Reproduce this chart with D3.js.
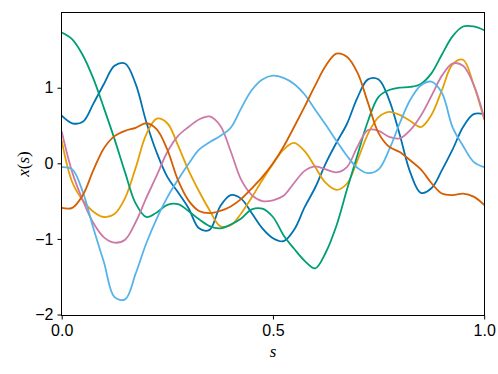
<!DOCTYPE html>
<html><head><meta charset="utf-8">
<script src="https://cdn.jsdelivr.net/npm/d3@7"></script>
<style>body{margin:0;background:#fff}svg{display:block}</style>
</head><body>
<svg id="chart" width="498" height="374"></svg>
<script>
// ---- data ----
const sValues = [0,0.025,0.05,0.075,0.1,0.125,0.15,0.175,0.2,0.225,0.25,0.275,0.3,0.325,0.35,0.375,0.4,0.425,0.45,0.475,0.5,0.525,0.55,0.575,0.6,0.625,0.65,0.675,0.7,0.725,0.75,0.775,0.8,0.825,0.85,0.875,0.9,0.925,0.95,0.975,1.0];
const sample1 = [0.63,0.53,0.55,0.79,1.05,1.29,1.32,1.05,0.55,0.14,-0.18,-0.38,-0.59,-0.86,-0.88,-0.57,-0.42,-0.47,-0.66,-0.86,-0.99,-1.03,-0.88,-0.58,-0.32,0.0,0.27,0.52,0.87,1.11,1.11,0.84,0.38,-0.12,-0.39,-0.33,-0.09,0.18,0.48,0.65,0.65];
const sample2 = [0.30,-0.25,-0.49,-0.64,-0.71,-0.67,-0.46,-0.06,0.38,0.59,0.53,0.24,-0.09,-0.37,-0.62,-0.83,-0.82,-0.66,-0.45,-0.22,-0.01,0.18,0.27,0.16,-0.05,-0.26,-0.35,-0.27,0.04,0.39,0.61,0.68,0.64,0.56,0.48,0.64,0.97,1.31,1.37,1.04,0.58];
const sample3 = [1.73,1.64,1.43,1.12,0.73,0.32,-0.12,-0.53,-0.71,-0.65,-0.55,-0.54,-0.63,-0.74,-0.83,-0.86,-0.81,-0.73,-0.61,-0.60,-0.71,-0.95,-1.13,-1.29,-1.39,-1.18,-0.83,-0.35,0.11,0.56,0.88,0.97,1.0,1.01,1.05,1.19,1.44,1.68,1.81,1.81,1.76];
const sample4 = [0.42,-0.12,-0.49,-0.79,-0.98,-1.05,-1.01,-0.78,-0.46,-0.16,0.15,0.36,0.48,0.58,0.62,0.50,0.16,-0.22,-0.42,-0.50,-0.49,-0.43,-0.26,-0.10,-0.04,-0.08,-0.12,-0.05,0.22,0.44,0.43,0.35,0.33,0.44,0.63,0.89,1.16,1.32,1.29,1.04,0.60];
const sample5 = [-0.05,-0.08,-0.38,-0.86,-1.31,-1.77,-1.80,-1.46,-1.06,-0.73,-0.45,-0.22,-0.01,0.18,0.28,0.36,0.47,0.73,0.97,1.11,1.16,1.13,1.05,0.91,0.71,0.51,0.30,0.10,-0.06,-0.13,-0.08,0.18,0.53,0.84,1.03,1.08,0.93,0.48,0.23,0.02,-0.05];
const sample6 = [-0.59,-0.59,-0.42,-0.09,0.20,0.36,0.43,0.47,0.53,0.45,0.18,-0.22,-0.49,-0.63,-0.66,-0.63,-0.57,-0.47,-0.33,-0.18,0.0,0.22,0.48,0.75,1.03,1.29,1.45,1.41,1.20,0.80,0.40,0.22,0.15,0.04,-0.08,-0.26,-0.40,-0.42,-0.40,-0.44,-0.55];
const seriesList = [sample1, sample2, sample3, sample4, sample5, sample6];
const seriesColors = ["#0072B2","#E69F00","#009E73","#CC79A7","#56B4E9","#D55E00"];
const xTicks = [0, 0.5, 1.0];
const xTickLabels = ["0.0","0.5","1.0"];
const yTicks = [-2,-1,0,1];
const yTickLabels = ["\u22122","\u22121","0","1"];

// ---- layout ----
const L = 61.5, R = 484.5, T = 12.5, B = 315.5;
const svg = d3.select("#chart");
const x = d3.scaleLinear().domain([0,1]).range([L+0.2, R-0.3]);
const y = d3.scaleLinear().domain([-2.013, 1.995]).range([B, T]);

svg.append("defs").append("clipPath").attr("id","pa")
  .append("rect").attr("x",L).attr("y",T).attr("width",R-L).attr("height",B-T);

const line = d3.line().x((d,i)=>x(sValues[i])).y(d=>y(d)).curve(d3.curveCatmullRom.alpha(0.5));
const g = svg.append("g").attr("clip-path","url(#pa)");
seriesList.forEach((vals,k)=>{
  g.append("path").attr("d", line(vals)).attr("fill","none")
   .attr("stroke", seriesColors[k]).attr("stroke-width",1.8)
   .attr("stroke-linejoin","round").attr("stroke-linecap","round");
});

// frame
svg.append("rect").attr("x",L).attr("y",T).attr("width",R-L).attr("height",B-T)
  .attr("fill","none").attr("stroke","#000").attr("stroke-width",1);

// x axis
const xAxis = d3.axisBottom(x).tickValues(xTicks).tickFormat((d,i)=>xTickLabels[i]).tickSize(4).tickPadding(5);
const gx = svg.append("g").attr("transform",`translate(0,${B})`).call(xAxis);
gx.select(".domain").remove();
gx.selectAll(".tick line").attr("stroke","#000");
gx.selectAll("text").attr("font-family","'Liberation Sans', Arial, sans-serif").attr("font-size",16).attr("fill","#000");

const yAxis = d3.axisLeft(y).tickValues(yTicks).tickFormat((d,i)=>yTickLabels[i]).tickSize(4).tickPadding(4);
const gy = svg.append("g").attr("transform",`translate(${L},0)`).call(yAxis);
gy.select(".domain").remove();
gy.selectAll(".tick line").attr("stroke","#000");
gy.selectAll("text").attr("font-family","'Liberation Sans', Arial, sans-serif").attr("font-size",16).attr("fill","#000");

// axis labels
svg.append("text").attr("x", (L+R)/2).attr("y", 357).attr("text-anchor","middle")
  .attr("font-family","'Liberation Serif', 'DejaVu Serif', serif").attr("font-size",17)
  .attr("font-style","italic").text("s");
const yl = svg.append("text").attr("transform",`translate(29,${(T+B)/2}) rotate(-90)`).attr("text-anchor","middle")
  .attr("font-family","'Liberation Serif', 'DejaVu Serif', serif").attr("font-size",17);
yl.append("tspan").attr("font-style","italic").text("x");
yl.append("tspan").text("(");
yl.append("tspan").attr("font-style","italic").text("s");
yl.append("tspan").text(")");
</script>
</body></html>
